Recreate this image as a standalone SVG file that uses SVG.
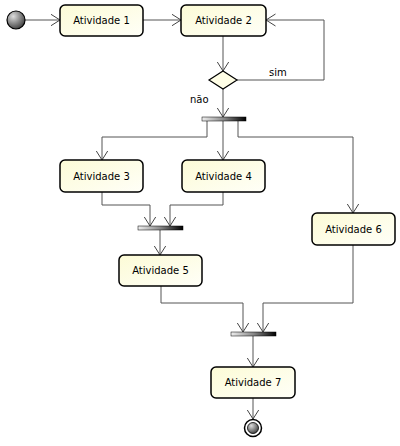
<svg xmlns="http://www.w3.org/2000/svg" width="400" height="446" viewBox="0 0 400 446">
<style>
.act rect{fill:url(#boxg);stroke:#000;stroke-width:1.5}
.act text,.lbl{font-family:"DejaVu Sans",sans-serif;font-size:10px;fill:#000}
.act text{text-anchor:middle}
.bar{fill:url(#barg);stroke:#000;stroke-width:0.5}
#edges path{fill:none;stroke:#555;stroke-width:1;marker-end:url(#arr)}
</style>
<defs>
<linearGradient id="boxg" x1="0" y1="0" x2="1" y2="1">
<stop offset="0" stop-color="#fcfbd6"/>
<stop offset="1" stop-color="#fffff8"/>
</linearGradient>
<linearGradient id="barg" x1="0" y1="0" x2="1" y2="0">
<stop offset="0" stop-color="#eeeeee"/>
<stop offset="0.5" stop-color="#888"/>
<stop offset="1" stop-color="#000"/>
</linearGradient>
<radialGradient id="ballg" cx="0.35" cy="0.3" r="0.8">
<stop offset="0" stop-color="#dddddd"/>
<stop offset="1" stop-color="#333333"/>
</radialGradient>
<marker id="arr" viewBox="0 0 10 14" refX="9.5" refY="7" markerWidth="10" markerHeight="14" markerUnits="userSpaceOnUse" orient="auto">
<path d="M0,1 L9.5,7 L0,13" fill="none" stroke="#444" stroke-width="1"/>
</marker>
</defs>
<g id="edges">
<path d="M25,20 H60"/>
<path d="M143,20 H181"/>
<path d="M223,36 V71"/>
<path d="M237,80 H324 V20 H266"/>
<path d="M223,89 V117"/>
<path d="M207,121 V137 H102 V160"/>
<path d="M223,121 V160"/>
<path d="M238,121 V137 H353 V213"/>
<path d="M102,192 V205 H150 V226"/>
<path d="M223,192 V205 H170 V226"/>
<path d="M160,230 V255"/>
<path d="M161,286 V303 H243 V332"/>
<path d="M353,245 V303 H263 V332"/>
<path d="M253,336 V367"/>
<path d="M253,398 V419"/>
</g>
<g id="start"><circle cx="16" cy="20" r="9" fill="url(#ballg)" stroke="#000" stroke-width="1.2"/></g>
<g id="a1" class="act"><rect x="60" y="5" width="83" height="31" rx="5"/><text x="101.5" y="24">Atividade 1</text></g>
<g id="a2" class="act"><rect x="181" y="5" width="85" height="31" rx="5"/><text x="223.5" y="24">Atividade 2</text></g>
<g id="decision"><polygon points="209,80 223,71 237,80 223,89" fill="#fffee6" stroke="#000" stroke-width="1.2"/></g>
<text class="lbl" x="269" y="76">sim</text>
<text class="lbl" x="190" y="103">não</text>
<g id="fork1"><rect class="bar" x="202" y="117" width="44" height="4"/></g>
<g id="a3" class="act"><rect x="60" y="160" width="83" height="32" rx="5"/><text x="101.5" y="179.5">Atividade 3</text></g>
<g id="a4" class="act"><rect x="182" y="160" width="83" height="32" rx="5"/><text x="223.5" y="179.5">Atividade 4</text></g>
<g id="join1"><rect class="bar" x="138" y="226" width="45" height="4"/></g>
<g id="a5" class="act"><rect x="119" y="255" width="83" height="31" rx="5"/><text x="160.5" y="274">Atividade 5</text></g>
<g id="a6" class="act"><rect x="312" y="213" width="83" height="32" rx="5"/><text x="353.5" y="232.5">Atividade 6</text></g>
<g id="join2"><rect class="bar" x="231" y="332" width="45" height="4"/></g>
<g id="a7" class="act"><rect x="211" y="367" width="84" height="31" rx="5"/><text x="253" y="386">Atividade 7</text></g>
<g id="end"><circle cx="253" cy="428" r="8.5" fill="#fff" stroke="#000" stroke-width="1.5"/><circle cx="253" cy="428" r="5.5" fill="url(#ballg)" stroke="#000" stroke-width="0.8"/></g>
</svg>
